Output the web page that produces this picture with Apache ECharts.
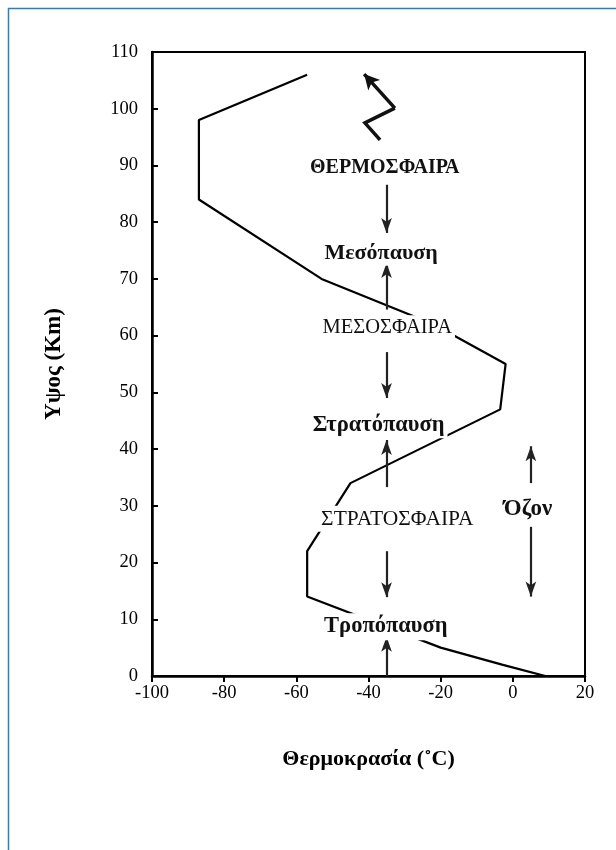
<!DOCTYPE html>
<html><head><meta charset="utf-8">
<script src="https://cdn.jsdelivr.net/npm/echarts@6/dist/echarts.min.js"></script>
<style>html,body{margin:0;padding:0;background:#fff}#c{width:616px;height:850px}</style>
</head><body><div id="c"></div>
<script>
// Temperature profile (°C, km)
const temperature = [-57, -87, -87, -53, -22, -2, -3.5, -45, -57, -57, -20, -3, 9];
const altitude    = [106, 98, 84, 70, 62, 55, 47, 34, 22, 14, 5, 2, 0];

const xTicks = [-100, -80, -60, -40, -20, 0, 20];
const yTicks = [0, 10, 20, 30, 40, 50, 60, 70, 80, 90, 100, 110];

// Layer labels: text, temperature, altitude, bold
const labelText = ['ΘΕΡΜΟΣΦΑΙΡΑ', 'Μεσόπαυση', 'ΜΕΣΟΣΦΑΙΡΑ', 'Στρατόπαυση', 'ΣΤΡΑΤΟΣΦΑΙΡΑ', 'Τροπόπαυση', 'Όζον'];
const labelT    = [-35.5, -36.5, -34.8, -37.2, -32, -35.2, 4.2];
const labelAlt  = [89.6, 74.6, 61.4, 44.3, 27.7, 8.7, 29.4];
const labelBold = [true, true, false, true, false, true, true];
const labelSize = [20, 22, 20.5, 22.5, 21.5, 22.5, 23];

// Straight arrows: from [T, alt] to [T, alt]
const arrowFrom = [[-35, 86.6], [-35, 64.6], [-35, 57.1], [-35, 33.3], [-35, 22], [-35, 0], [5, 34], [5, 26.3]];
const arrowTo   = [[-35, 78.1], [-35, 72.8], [-35, 49], [-35, 41.6], [-35, 13.9], [-35, 6.9], [5, 40.5], [5, 14]];

// Zigzag arrow (thermosphere)
const zigzag = [[-36.8, 94.5], [-41, 97.5], [-32.7, 100.1], [-41.2, 106.1]];

const font = '"Liberation Serif", "Times New Roman", serif';
const chart = echarts.init(document.getElementById('c'));

const profile = temperature.map((t, i) => [t, altitude[i]]);

chart.setOption({
  backgroundColor: '#fff',
  animation: false,
  graphic: [{
    type: 'rect', shape: {x: 8.5, y: 8.5, width: 700, height: 900},
    style: {fill: 'none', stroke: '#2f7fb3', lineWidth: 1.5}, z: 0
  }],
  grid: {left: 152, top: 52, right: 31, bottom: 174, show: true, borderColor: '#000', borderWidth: 2, backgroundColor: 'transparent'},
  xAxis: {
    type: 'value', min: -100, max: 20, interval: 20,
    name: 'Θερμοκρασία (˚C)', nameLocation: 'middle', nameGap: 72,
    nameTextStyle: {fontFamily: font, fontSize: 22, fontWeight: 'bold', color: '#000'},
    axisLine: {show: true, onZero: false, lineStyle: {color: '#000', width: 2.5}},
    axisTick: {show: true, inside: false, length: 6, lineStyle: {color: '#000', width: 2}},
    axisLabel: {fontFamily: font, fontSize: 18.5, color: '#000', margin: 8,
      formatter: v => xTicks.includes(v) ? String(v) : ''},
    splitLine: {show: false}
  },
  yAxis: {
    type: 'value', min: 0, max: 110, interval: 10,
    name: 'Υψος (Km)', nameLocation: 'middle', nameGap: 86, nameRotate: 90,
    nameTextStyle: {fontFamily: font, fontSize: 23, fontWeight: 'bold', color: '#000'},
    axisLine: {show: true, onZero: false, lineStyle: {color: '#000', width: 2.5}},
    axisTick: {show: true, inside: true, length: 6, lineStyle: {color: '#000', width: 2}},
    axisLabel: {fontFamily: font, fontSize: 18.5, color: '#000', margin: 14,
      formatter: v => yTicks.includes(v) ? String(v) : ''},
    splitLine: {show: false}
  },
  series: [
    {
      type: 'line', data: profile, showSymbol: false, symbol: 'none',
      lineStyle: {color: '#000', width: 2.2}, z: 2
    },
    {
      type: 'lines', coordinateSystem: 'cartesian2d', z: 3,
      symbol: ['none', 'arrow'], symbolSize: [0, [8, 15]],
      lineStyle: {color: '#222', width: 2.2, opacity: 1},
      data: arrowFrom.map((f, i) => ({coords: [f, arrowTo[i]]}))
    },
    {
      type: 'lines', coordinateSystem: 'cartesian2d', polyline: true, z: 3,
      symbol: 'none',
      lineStyle: {color: '#111', width: 3.5, opacity: 1},
      data: [{coords: zigzag.slice(0, 3)}]
    },
    {
      type: 'lines', coordinateSystem: 'cartesian2d', z: 3,
      symbol: ['none', 'arrow'], symbolSize: [0, [12, 15]],
      lineStyle: {color: '#111', width: 3.5, opacity: 1},
      data: [{coords: zigzag.slice(2, 4)}]
    },
    {
      type: 'scatter', symbolSize: 0, z: 5, itemStyle: {opacity: 1},
      data: labelText.map((txt, i) => ({
        value: [labelT[i], labelAlt[i]],
        label: {
          show: true, position: 'inside', formatter: txt,
          fontFamily: font, color: '#111',
          fontSize: labelSize[i],
          fontWeight: labelBold[i] ? 'bold' : 'normal',
          backgroundColor: '#fff', padding: [2, 3]
        }
      }))
    }
  ]
});
</script></body></html>
